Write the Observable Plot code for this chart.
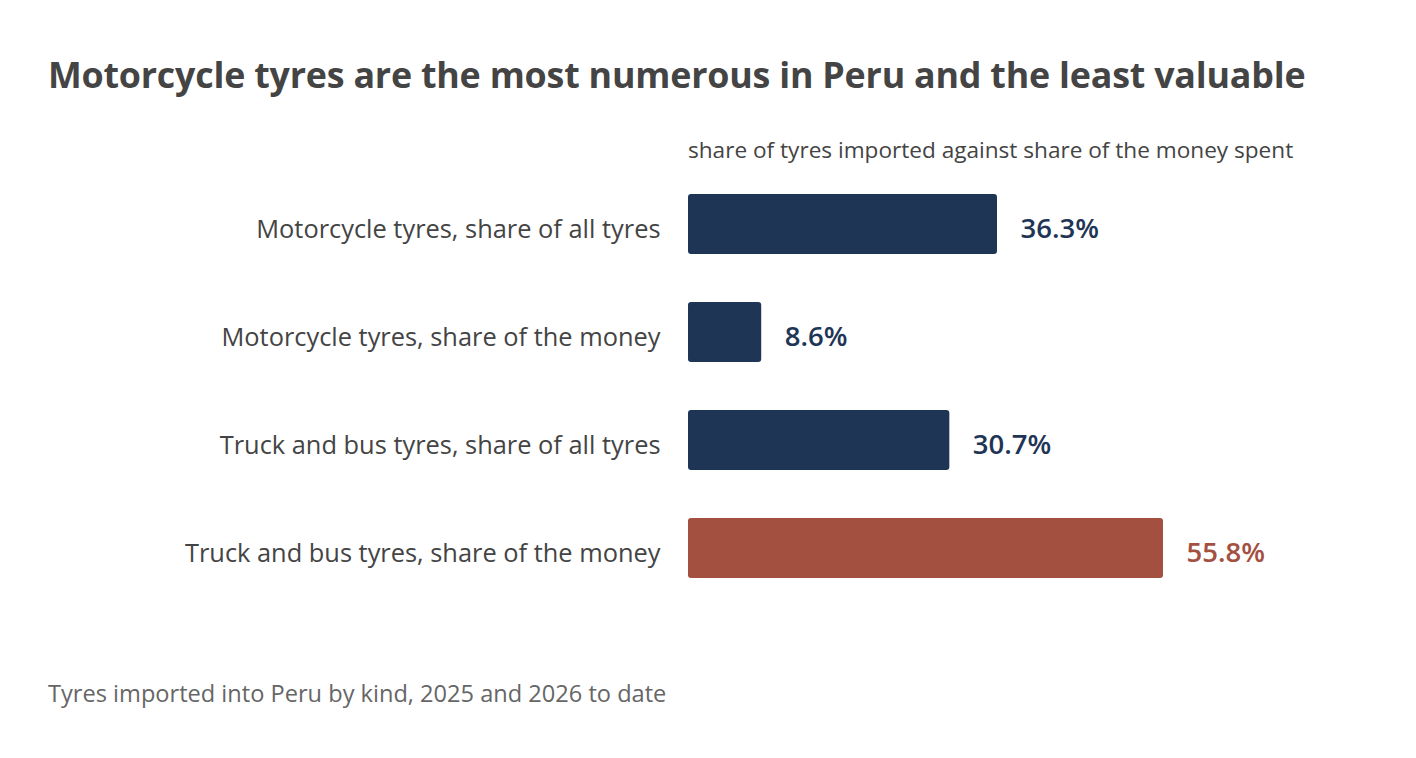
<!DOCTYPE html>
<html>
<head>
<meta charset="utf-8">
<script src="https://cdn.jsdelivr.net/npm/d3@7"></script>
<script src="https://cdn.jsdelivr.net/npm/@observablehq/plot@0.6"></script>
<style>
  html, body { margin: 0; padding: 0; background: #fff; }
  body { width: 1416px; height: 758px; overflow: hidden; font-family: "Open Sans", "Noto Sans", sans-serif; }
  #wrap { padding-top: 52px; }
  h1 { margin: 0 0 0 48px; font-size: 35.8px; line-height: 44px; font-weight: 700; color: #444; letter-spacing: -0.2px; white-space: nowrap; }
  #sub { margin: 40px 0 0 688px; font-size: 22.6px; line-height: 28px; color: #444; white-space: nowrap; }
  #cap { margin: 70px 0 0 48px; font-size: 23.6px; line-height: 30px; color: #666; white-space: nowrap; }
  #chart svg { display: block; }
</style>
</head>
<body>
<div id="wrap">
  <h1>Motorcycle tyres are the most numerous in Peru and the least valuable</h1>
  <div id="sub">share of tyres imported against share of the money spent</div>
  <div id="chart"></div>
  <div id="cap">Tyres imported into Peru by kind, 2025 and 2026 to date</div>
</div>
<script>
const categories = [
  "Motorcycle tyres, share of all tyres",
  "Motorcycle tyres, share of the money",
  "Truck and bus tyres, share of all tyres",
  "Truck and bus tyres, share of the money"
];
const values = [36.3, 8.6, 30.7, 55.8];
const highlight = [false, false, false, true];
const colors = { base: "#1f3556", accent: "#a35040" };

const data = categories.map((c, i) => ({
  category: c,
  value: values[i],
  color: highlight[i] ? colors.accent : colors.base
}));

const chart = Plot.plot({
  width: 1416,
  height: 444,
  marginLeft: 688,
  marginRight: 47,
  marginTop: 0,
  marginBottom: 0,
  style: { fontFamily: "'Open Sans', 'Noto Sans', sans-serif", color: "#444", background: "#fff" },
  x: { domain: [0, 80], axis: null },
  y: { domain: categories, paddingInner: 0.4444, paddingOuter: 0.2778, round: false, label: null },
  marks: [
    Plot.axisY({ tickSize: 0, tickPadding: 28, fontSize: 25.4, dy: 5, label: null, fill: "#444" }),
    Plot.barX(data, { x: "value", y: "category", fill: "color", rx: 3 }),
    Plot.text(data, {
      x: "value", y: "category",
      text: d => d.value.toFixed(1) + "%",
      dx: 23, dy: 5, textAnchor: "start", fontSize: 27.5, fontWeight: 600,
      fill: "color"
    })
  ]
});
document.getElementById("chart").appendChild(chart);
</script>
</body>
</html>
